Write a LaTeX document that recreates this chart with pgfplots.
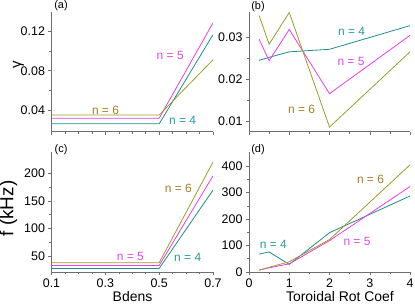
\documentclass[border=0pt]{standalone}
\usepackage{fontspec}
\setmainfont{Liberation Sans}
\usepackage{pgfplots}
\pgfplotsset{compat=1.18}

\definecolor{lolive}{RGB}{155,155,40}
\definecolor{lmag}{RGB}{235,60,235}
\definecolor{lteal}{RGB}{30,140,140}
\definecolor{tolive}{RGB}{165,125,40}
\definecolor{tmag}{RGB}{230,70,230}
\definecolor{tteal}{RGB}{40,155,155}
\definecolor{axgray}{RGB}{110,110,110}

\tikzset{
  nlab/.style={font=\fontsize{12}{14}\selectfont, anchor=center},
  plab/.style={font=\fontsize{11}{13}\selectfont, anchor=center},
}
\pgfplotsset{
  panel/.style={
    scale only axis,
    clip mode=individual,
    axis lines=left,
    axis line style={-, draw=axgray, line width=0.6pt},
    tick align=outside,
    major tick length=3bp,
    minor tick length=2bp,
    every tick/.style={axgray, line width=0.5pt},
    tick label style={font=\fontsize{12.5}{14}\selectfont},
    /pgf/number format/assume math mode=true,
    scaled ticks=false,
    every axis plot/.append style={line width=0.8pt, mark=none},
    label style={font=\fontsize{14}{16}\selectfont},
  },
}

\begin{document}
\begin{tikzpicture}
\path[use as bounding box] (0,0) rectangle (415bp,305bp);

% (a)
\begin{axis}[panel,
  at={(51.5bp,173.3bp)}, anchor=south west,
  width=161.5bp, height=120bp,
  xmin=0.1, xmax=0.7, ymin=0.018, ymax=0.14,
  xtick={0.1,0.3,0.5,0.7}, xticklabels={},
  minor x tick num=3,
  ytick={0.04,0.08,0.12}, yticklabels={0.04,0.08,0.12},
  minor y tick num=1,
]
\addplot[lteal] coordinates {(0.1,0.026) (0.5,0.026) (0.7,0.1166)};
\addplot[lmag] coordinates {(0.1,0.0317) (0.5,0.0317) (0.7,0.1286)};
\addplot[lolive] coordinates {(0.1,0.035) (0.5,0.035) (0.7,0.0911)};
\node[nlab, text=tmag] at (axis cs:0.541,0.0952) {n = 5};
\node[nlab, text=tolive] at (axis cs:0.3006,0.040) {n = 6};
\node[nlab, text=tteal] at (axis cs:0.587,0.0298) {n = 4};
\node[plab] at (axis description cs:0.059,1.0475) {(a)};
\node[rotate=90, anchor=center, font=\fontsize{15}{17}\selectfont] at (axis description cs:-0.205,0.556) {γ};
\end{axis}

% (b)
\begin{axis}[panel,
  at={(249bp,173.3bp)}, anchor=south west,
  width=161bp, height=120bp,
  xmin=0, xmax=4, ymin=0.0076, ymax=0.036,
  xtick={0,1,2,3,4}, xticklabels={},
  minor x tick num=1,
  ytick={0.01,0.02,0.03}, yticklabels={0.01,0.02,0.03},
  minor y tick num=1,
]
\addplot[lteal] coordinates {(0.25,0.0245) (0.5,0.0252) (1,0.0265) (2,0.0271) (4,0.0327)};
\addplot[lmag] coordinates {(0.25,0.0295) (0.5,0.0244) (1,0.0318) (2,0.0166) (4,0.0304)};
\addplot[lolive] coordinates {(0.25,0.0351) (0.5,0.0283) (1,0.0358) (2,0.0087) (4,0.0265)};
\node[nlab, text=tteal] at (axis cs:2.547,0.0314) {n = 4};
\node[nlab, text=tmag] at (axis cs:2.534,0.0243) {n = 5};
\node[nlab, text=tolive] at (axis cs:1.309,0.0129) {n = 6};
\node[plab] at (axis description cs:0.056,1.039) {(b)};
\end{axis}

% (c)
\begin{axis}[panel,
  at={(51.5bp,32.7bp)}, anchor=south west,
  width=161.5bp, height=120.6bp,
  xmin=0.1, xmax=0.7, ymin=20, ymax=240,
  xtick={0.1,0.3,0.5,0.7}, xticklabels={0.1,0.3,0.5,0.7},
  minor x tick num=3,
  ytick={50,100,150,200}, yticklabels={50,100,150,200},
  minor y tick num=1,
  xlabel={Bdens},
  xlabel style={at={(axis description cs:0.5016,-0.202)}, anchor=center},
]
\addplot[lteal] coordinates {(0.1,27) (0.5,27) (0.7,170)};
\addplot[lmag] coordinates {(0.1,32.5) (0.5,32.5) (0.7,196)};
\addplot[lolive] coordinates {(0.1,37.5) (0.5,37.5) (0.7,221)};
\node[nlab, text=tolive] at (axis cs:0.571,173) {n = 6};
\node[nlab, text=tmag] at (axis cs:0.393,49) {n = 5};
\node[nlab, text=tteal] at (axis cs:0.606,47) {n = 4};
\node[plab] at (axis description cs:0.059,1.02) {(c)};
\node[rotate=90, anchor=center, font=\fontsize{19}{21}\selectfont] at (axis description cs:-0.266,0.529) {f (kHz)};
\end{axis}

% (d)
\begin{axis}[panel,
  at={(249bp,32.7bp)}, anchor=south west,
  width=161bp, height=120.6bp,
  xmin=0, xmax=4, ymin=-2, ymax=455,
  xtick={0,1,2,3,4}, xticklabels={0,1,2,3,4},
  minor x tick num=1,
  ytick={0,100,200,300,400}, yticklabels={0,100,200,300,400},
  minor y tick num=1,
  xlabel={Toroidal Rot Coef},
  xlabel style={at={(axis description cs:0.565,-0.202)}, anchor=center},
]
\addplot[lteal] coordinates {(0.25,67) (0.5,75) (1,28) (2,148) (4,287)};
\addplot[lmag] coordinates {(0.25,6) (0.5,15) (1,30) (2,118) (4,323)};
\addplot[lolive] coordinates {(0.25,6) (0.5,17) (1,38) (2,122) (4,405)};
\node[nlab, text=tolive] at (axis cs:3.018,351.7) {n = 6};
\node[nlab, text=tmag] at (axis cs:2.683,115) {n = 5};
\node[nlab, text=tteal] at (axis cs:0.604,102.6) {n = 4};
\node[plab] at (axis description cs:0.056,1.02) {(d)};
\end{axis}
\end{tikzpicture}
\end{document}
